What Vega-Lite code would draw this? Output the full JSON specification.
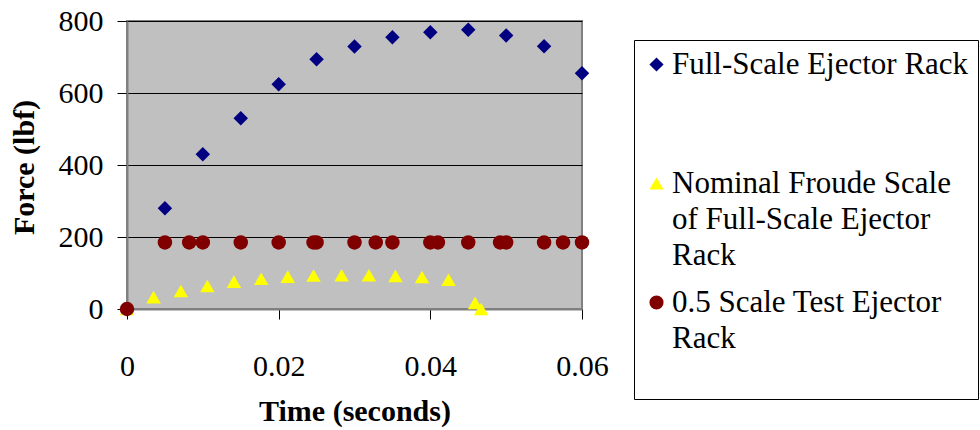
{
  "$schema": "https://vega.github.io/schema/vega-lite/v6.json",
  "width": 455,
  "height": 288,
  "autosize": "none",
  "padding": {"left": 127, "top": 21, "right": 398, "bottom": 121},
  "background": "white",
  "config": {
    "font": "Liberation Serif",
    "view": {"fill": "#C0C0C0", "stroke": "#808080", "strokeWidth": 2},
    "style": {
      "guide-label": {"lineHeight": 36, "dy": 9}
    },
    "axis": {
      "labelFont": "Liberation Serif",
      "labelFontSize": 30,
      "labelColor": "black",
      "titleFont": "Liberation Serif",
      "titleFontSize": 30,
      "titleFontWeight": "bold",
      "titleColor": "black",
      "tickColor": "black",
      "tickSize": 10,
      "domainColor": "#808080",
      "domainWidth": 2
    },
    "legend": {
      "labelFont": "Liberation Serif",
      "labelFontSize": 31,
      "labelColor": "black"
    }
  },
  "data": {
    "values": [
      {"series": "Full-Scale Ejector Rack", "time": 0.005, "force": 280},
      {"series": "Full-Scale Ejector Rack", "time": 0.010, "force": 430},
      {"series": "Full-Scale Ejector Rack", "time": 0.015, "force": 530},
      {"series": "Full-Scale Ejector Rack", "time": 0.020, "force": 624},
      {"series": "Full-Scale Ejector Rack", "time": 0.025, "force": 694},
      {"series": "Full-Scale Ejector Rack", "time": 0.030, "force": 729},
      {"series": "Full-Scale Ejector Rack", "time": 0.035, "force": 755},
      {"series": "Full-Scale Ejector Rack", "time": 0.040, "force": 769},
      {"series": "Full-Scale Ejector Rack", "time": 0.045, "force": 776},
      {"series": "Full-Scale Ejector Rack", "time": 0.050, "force": 760},
      {"series": "Full-Scale Ejector Rack", "time": 0.055, "force": 730},
      {"series": "Full-Scale Ejector Rack", "time": 0.060, "force": 655},
      {"series": "Nominal Froude Scale of Full-Scale Ejector Rack", "time": 0.0, "force": 0},
      {"series": "Nominal Froude Scale of Full-Scale Ejector Rack", "time": 0.0035, "force": 33},
      {"series": "Nominal Froude Scale of Full-Scale Ejector Rack", "time": 0.0071, "force": 50},
      {"series": "Nominal Froude Scale of Full-Scale Ejector Rack", "time": 0.0106, "force": 64},
      {"series": "Nominal Froude Scale of Full-Scale Ejector Rack", "time": 0.0141, "force": 76},
      {"series": "Nominal Froude Scale of Full-Scale Ejector Rack", "time": 0.0177, "force": 84},
      {"series": "Nominal Froude Scale of Full-Scale Ejector Rack", "time": 0.0212, "force": 90},
      {"series": "Nominal Froude Scale of Full-Scale Ejector Rack", "time": 0.0246, "force": 93},
      {"series": "Nominal Froude Scale of Full-Scale Ejector Rack", "time": 0.0283, "force": 94},
      {"series": "Nominal Froude Scale of Full-Scale Ejector Rack", "time": 0.0319, "force": 94},
      {"series": "Nominal Froude Scale of Full-Scale Ejector Rack", "time": 0.0354, "force": 92},
      {"series": "Nominal Froude Scale of Full-Scale Ejector Rack", "time": 0.0389, "force": 89},
      {"series": "Nominal Froude Scale of Full-Scale Ejector Rack", "time": 0.0424, "force": 81},
      {"series": "Nominal Froude Scale of Full-Scale Ejector Rack", "time": 0.0459, "force": 17},
      {"series": "Nominal Froude Scale of Full-Scale Ejector Rack", "time": 0.0467, "force": 0},
      {"series": "0.5 Scale Test Ejector Rack", "time": 0.0, "force": 0},
      {"series": "0.5 Scale Test Ejector Rack", "time": 0.005, "force": 185},
      {"series": "0.5 Scale Test Ejector Rack", "time": 0.0082, "force": 185},
      {"series": "0.5 Scale Test Ejector Rack", "time": 0.010, "force": 185},
      {"series": "0.5 Scale Test Ejector Rack", "time": 0.015, "force": 185},
      {"series": "0.5 Scale Test Ejector Rack", "time": 0.020, "force": 185},
      {"series": "0.5 Scale Test Ejector Rack", "time": 0.0246, "force": 185},
      {"series": "0.5 Scale Test Ejector Rack", "time": 0.025, "force": 185},
      {"series": "0.5 Scale Test Ejector Rack", "time": 0.030, "force": 185},
      {"series": "0.5 Scale Test Ejector Rack", "time": 0.0328, "force": 185},
      {"series": "0.5 Scale Test Ejector Rack", "time": 0.035, "force": 185},
      {"series": "0.5 Scale Test Ejector Rack", "time": 0.040, "force": 185},
      {"series": "0.5 Scale Test Ejector Rack", "time": 0.041, "force": 185},
      {"series": "0.5 Scale Test Ejector Rack", "time": 0.045, "force": 185},
      {"series": "0.5 Scale Test Ejector Rack", "time": 0.0492, "force": 185},
      {"series": "0.5 Scale Test Ejector Rack", "time": 0.050, "force": 185},
      {"series": "0.5 Scale Test Ejector Rack", "time": 0.055, "force": 185},
      {"series": "0.5 Scale Test Ejector Rack", "time": 0.0575, "force": 185},
      {"series": "0.5 Scale Test Ejector Rack", "time": 0.060, "force": 185}
    ]
  },
  "mark": {"type": "point", "filled": true, "opacity": 1, "size": 210, "strokeWidth": 0},
  "encoding": {
    "x": {
      "field": "time",
      "type": "quantitative",
      "scale": {"domain": [0, 0.06], "nice": false},
      "axis": {
        "title": "Time (seconds)",
        "values": [0, 0.02, 0.04, 0.06],
        "format": ".2~f",
        "grid": false,
        "labelPadding": 23,
        "labelFlush": false,
        "titleY": 111,
        "titleBaseline": "alphabetic"
      }
    },
    "y": {
      "field": "force",
      "type": "quantitative",
      "scale": {"domain": [0, 800], "nice": false},
      "axis": {
        "title": "Force (lbf)",
        "values": [0, 200, 400, 600, 800],
        "grid": true,
        "gridColor": "black",
        "gridWidth": 1,
        "gridOpacity": 1,
        "labelPadding": 14,
        "labelOffset": -9,
        "titleX": -94,
        "titleY": 146,
        "titleAngle": 270,
        "titleAlign": "center",
        "titleBaseline": "alphabetic"
      }
    },
    "color": {
      "field": "series",
      "type": "nominal",
      "scale": {
        "domain": ["Full-Scale Ejector Rack", "Nominal Froude Scale of Full-Scale Ejector Rack", "0.5 Scale Test Ejector Rack"],
        "range": ["#000080", "#FFFF00", "#800000"]
      },
      "legend": {
        "orient": "none",
        "legendX": 507,
        "legendY": 19,
        "title": null,
        "strokeColor": "black",
        "fillColor": "white",
        "padding": 9,
        "labelLimit": 500,
        "labelOffset": 0,
        "labelBaseline": "alphabetic",
        "symbolOffset": -2,
        "symbolSize": 200,
        "symbolStrokeWidth": 0,
        "gridAlign": "all",
        "rowPadding": 15,
        "labelExpr": "datum.label == 'Nominal Froude Scale of Full-Scale Ejector Rack' ? ['Nominal Froude Scale', 'of Full-Scale Ejector', 'Rack'] : datum.label == '0.5 Scale Test Ejector Rack' ? ['0.5 Scale Test Ejector', 'Rack', ''] : datum.label"
      }
    },
    "shape": {
      "field": "series",
      "type": "nominal",
      "scale": {
        "domain": ["Full-Scale Ejector Rack", "Nominal Froude Scale of Full-Scale Ejector Rack", "0.5 Scale Test Ejector Rack"],
        "range": ["diamond", "triangle-up", "circle"]
      }
    }
  }
}
